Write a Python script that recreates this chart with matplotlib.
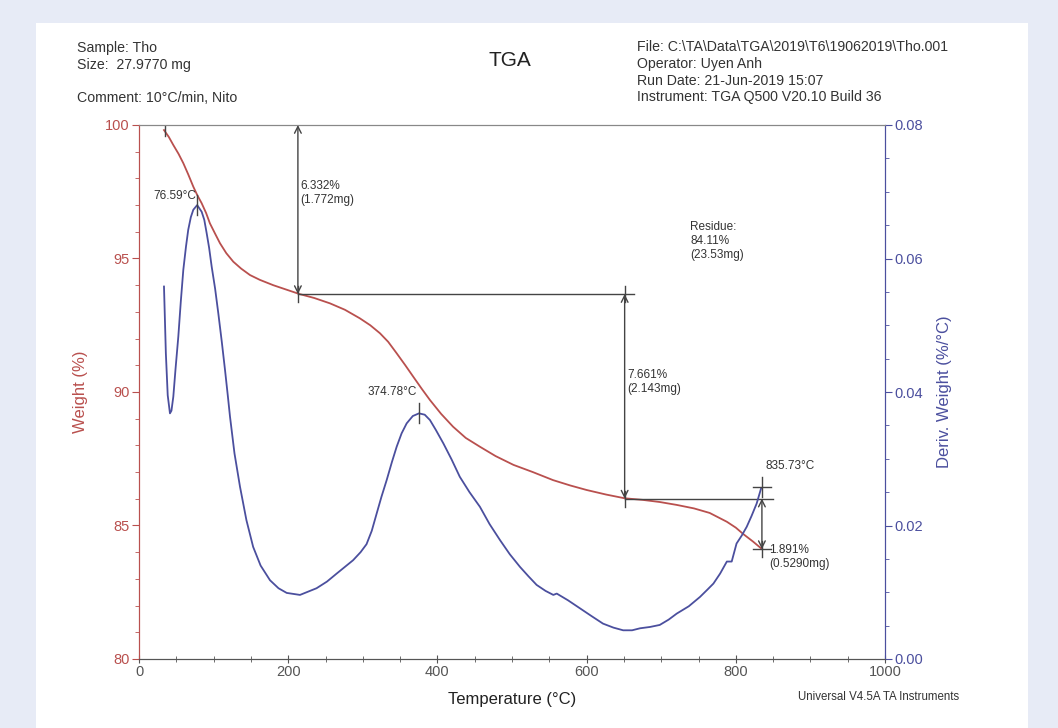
import matplotlib
matplotlib.use("Agg")
import matplotlib.pyplot as plt
from matplotlib.patches import Rectangle
from matplotlib.ticker import MultipleLocator

plt.rcParams['font.family'] = ['Liberation Sans', 'DejaVu Sans']

# weight curve
temp_w = [33.5, 40, 46, 53, 59.4, 66, 72.8, 78, 84, 90, 95, 102, 108.6, 117, 126.4, 137,
          148.8, 162, 180, 198, 215, 235, 256, 276, 296, 310, 323, 334, 345.4, 357,
          367.7, 379, 390, 405, 421, 438, 457, 478, 502, 528, 555, 578, 600, 626, 651,
          675, 698, 721, 744, 765, 788, 800, 810, 823, 835]
weight = [99.81, 99.55, 99.25, 98.92, 98.57, 98.15, 97.69, 97.38, 97.07, 96.7, 96.32,
          95.93, 95.57, 95.2, 94.88, 94.62, 94.38, 94.2, 94.0, 93.83, 93.67, 93.52, 93.32,
          93.08, 92.76, 92.5, 92.2, 91.88, 91.45, 91.0, 90.57, 90.12, 89.7, 89.18, 88.7,
          88.28, 87.95, 87.6, 87.27, 87.0, 86.7, 86.5, 86.33, 86.16, 86.02, 85.96, 85.88,
          85.77, 85.64, 85.47, 85.14, 84.92, 84.68, 84.4, 84.12]

# derivative curve
temp_d = [33.5, 36, 38.5, 41.5, 43.5, 46, 49, 52.7, 56, 59.4, 63, 66, 69.5, 72.8, 78, 84,
          87.5, 90.7, 94, 97.4, 102, 106.3, 111, 115.3, 119, 122, 128, 135.4, 144, 153,
          163, 175.6, 187, 198, 215.8, 238, 252, 265, 276, 287, 297, 305, 312, 318.6,
          325, 332, 339, 345.4, 352, 358.8, 367, 375.3, 383, 390, 398, 408, 419, 430,
          443, 457, 470, 484, 497, 510.7, 522, 533, 545, 555.4, 560, 575, 591, 607, 622,
          636, 649, 661, 671.6, 685, 698, 710, 720.8, 737, 752, 762, 770, 779, 788,
          794.5, 801, 808, 814.6, 821, 828, 834]
deriv = [0.0558, 0.0458, 0.0395, 0.0368, 0.0372, 0.0393, 0.0435, 0.0483, 0.0535, 0.0583,
         0.0618, 0.0643, 0.0662, 0.0673, 0.068, 0.067, 0.0658, 0.0638, 0.0616, 0.0588,
         0.0555, 0.0518, 0.0475, 0.0433, 0.0395, 0.0363, 0.0308, 0.0258, 0.0208, 0.0168,
         0.014, 0.0118, 0.0106, 0.0099, 0.0096, 0.0106, 0.0116, 0.0128, 0.0138, 0.0148,
         0.016, 0.0172, 0.0192, 0.0218, 0.0243, 0.0268, 0.0295, 0.0318, 0.0338, 0.0353,
         0.0364, 0.0368, 0.0366, 0.0358, 0.0343, 0.0323, 0.0299, 0.0273, 0.025, 0.0228,
         0.0202, 0.0178, 0.0157, 0.0138, 0.0124, 0.0111, 0.0102, 0.0096, 0.0098, 0.0088,
         0.0076, 0.0064, 0.0053, 0.0047, 0.0043, 0.0043, 0.0046, 0.0048, 0.0051, 0.0059,
         0.0068, 0.0079, 0.0093, 0.0104, 0.0113, 0.0128, 0.0146, 0.0146, 0.0173, 0.0185,
         0.0198, 0.0214, 0.0233, 0.0256]

# step analysis
steps_t = [213, 651, 835]
steps_w = [100.0, 93.668, 86.007, 84.116]
step_labels = ["6.332%\n(1.772mg)", "7.661%\n(2.143mg)", "1.891%\n(0.5290mg)"]
peak_t = [77.7, 375, 835]
peak_d = [0.068, 0.0368, 0.0258]
peak_labels = ["76.59°C", "374.78°C", "835.73°C"]

red = "#b9504e"
blue = "#4b4f9e"
grey = "#555555"

fig = plt.figure(figsize=(10.58, 7.28), dpi=100)
fig.patch.set_facecolor("#e7ebf6")
fig.patches.append(Rectangle((36 / 1058, 0), 992 / 1058, 1 - 23 / 728,
                             transform=fig.transFigure, facecolor="white",
                             edgecolor="none", zorder=-10))

ax = fig.add_axes([139 / 1058, 1 - 659 / 728, 746 / 1058, 534 / 728])
ax.set_facecolor("none")
ax2 = ax.twinx()

ax.plot(temp_w, weight, color=red, lw=1.3)
ax2.plot(temp_d, deriv, color=blue, lw=1.3)

ax.set_xlim(0, 1000)
ax.set_ylim(80, 100)
ax2.set_ylim(0, 0.08)

ax.xaxis.set_major_locator(MultipleLocator(200))
ax.xaxis.set_minor_locator(MultipleLocator(50))
ax.yaxis.set_major_locator(MultipleLocator(5))
ax.yaxis.set_minor_locator(MultipleLocator(1))
ax2.yaxis.set_major_locator(MultipleLocator(0.02))
ax2.yaxis.set_minor_locator(MultipleLocator(0.005))
ax2.yaxis.set_major_formatter(lambda v, p: f"{v:.2f}")

for a in (ax, ax2):
    a.spines['top'].set_color("#888888")
    a.spines['left'].set_color(red)
    a.spines['right'].set_color(blue)
    a.spines['bottom'].set_color(grey)

ax.tick_params(axis='x', which='both', direction='inout', colors=grey, labelsize=10.5,
               length=6, pad=1)
ax.tick_params(axis='x', which='minor', length=4)
ax.tick_params(axis='y', which='both', colors=red, labelsize=10.5, length=5, pad=2)
ax.tick_params(axis='y', which='minor', length=3)
ax2.tick_params(axis='y', which='both', colors=blue, labelsize=10.5, length=5, pad=2)
ax2.tick_params(axis='y', which='minor', length=3)

ax.set_xlabel("Temperature (°C)", fontsize=12, color="#222222", labelpad=10)
ax.set_ylabel("Weight (%)", fontsize=12, color=red, labelpad=12)
ax2.set_ylabel("Deriv. Weight (%/°C)", fontsize=12, color=blue, labelpad=10)

# step lines and arrows
lc = "#444444"
arrow = dict(arrowstyle="<->", color=lc, lw=1.0, shrinkA=0, shrinkB=0, mutation_scale=12)
ax.plot([35, 35], [99.6, 100.3], color=lc, lw=1)
ax.plot([steps_t[0], steps_t[1] + 12], [steps_w[1], steps_w[1]], color=lc, lw=1)
ax.plot([steps_t[1], 850], [steps_w[2], steps_w[2]], color=lc, lw=1)
for i, t in enumerate(steps_t):
    ax.annotate("", xy=(t, steps_w[i + 1]), xytext=(t, steps_w[i]), arrowprops=arrow)
    ax.plot([t, t], [steps_w[i + 1] - 0.3, steps_w[i + 1] + 0.3], color=lc, lw=1)
ax.plot([steps_t[1], steps_t[1]], [steps_w[1] - 0.3, steps_w[1] + 0.3], color=lc, lw=1)
ax.plot([steps_t[2] - 12, steps_t[2] + 12], [steps_w[3], steps_w[3]], color=lc, lw=1)

tkw = dict(fontsize=8.5, color="#333333", linespacing=1.2)
ax.text(steps_t[0] + 3, 97.95, step_labels[0], va="top", ha="left", **tkw)
ax.text(steps_t[1] + 3, 90.85, step_labels[1], va="top", ha="left", **tkw)
ax.text(steps_t[2] + 10, 84.3, step_labels[2], va="top", ha="left", **tkw)
ax.text(739, 96.4, "Residue:\n84.11%\n(23.53mg)", va="top", ha="left", **tkw)

for t, d in zip(peak_t, peak_d):
    ax2.plot([t, t], [d - 0.0015, d + 0.0015], color=lc, lw=1)
ax2.plot([peak_t[2] - 12, peak_t[2] + 12], [peak_d[2], peak_d[2]], color=lc, lw=1)
ax2.text(77, 0.0685, peak_labels[0], ha="right", va="bottom", **tkw)
ax2.text(373, 0.0391, peak_labels[1], ha="right", va="bottom", **tkw)
ax2.text(840, 0.0280, peak_labels[2], ha="left", va="bottom", **tkw)

# header
hkw = dict(fontsize=10.2, color="#333333", va="center", ha="left")
fig.text(77 / 1058, 1 - 48 / 728, "Sample: Tho", **hkw)
fig.text(77 / 1058, 1 - 65 / 728, "Size:  27.9770 mg", **hkw)
fig.text(77 / 1058, 1 - 98 / 728, "Comment: 10°C/min, Nito", **hkw)
fig.text(510 / 1058, 1 - 60 / 728, "TGA", fontsize=15, color="#222222", ha="center", va="center")
info = ["File: C:\\TA\\Data\\TGA\\2019\\T6\\19062019\\Tho.001", "Operator: Uyen Anh",
        "Run Date: 21-Jun-2019 15:07", "Instrument: TGA Q500 V20.10 Build 36"]
for k, line in enumerate(info):
    fig.text(637 / 1058, 1 - (47 + 16.8 * k) / 728, line, **hkw)
fig.text(879 / 1058, 1 - 697 / 728, "Universal V4.5A TA Instruments", fontsize=8.3,
         color="#333333", ha="center", va="center")

fig.savefig("out.png", dpi=100)
